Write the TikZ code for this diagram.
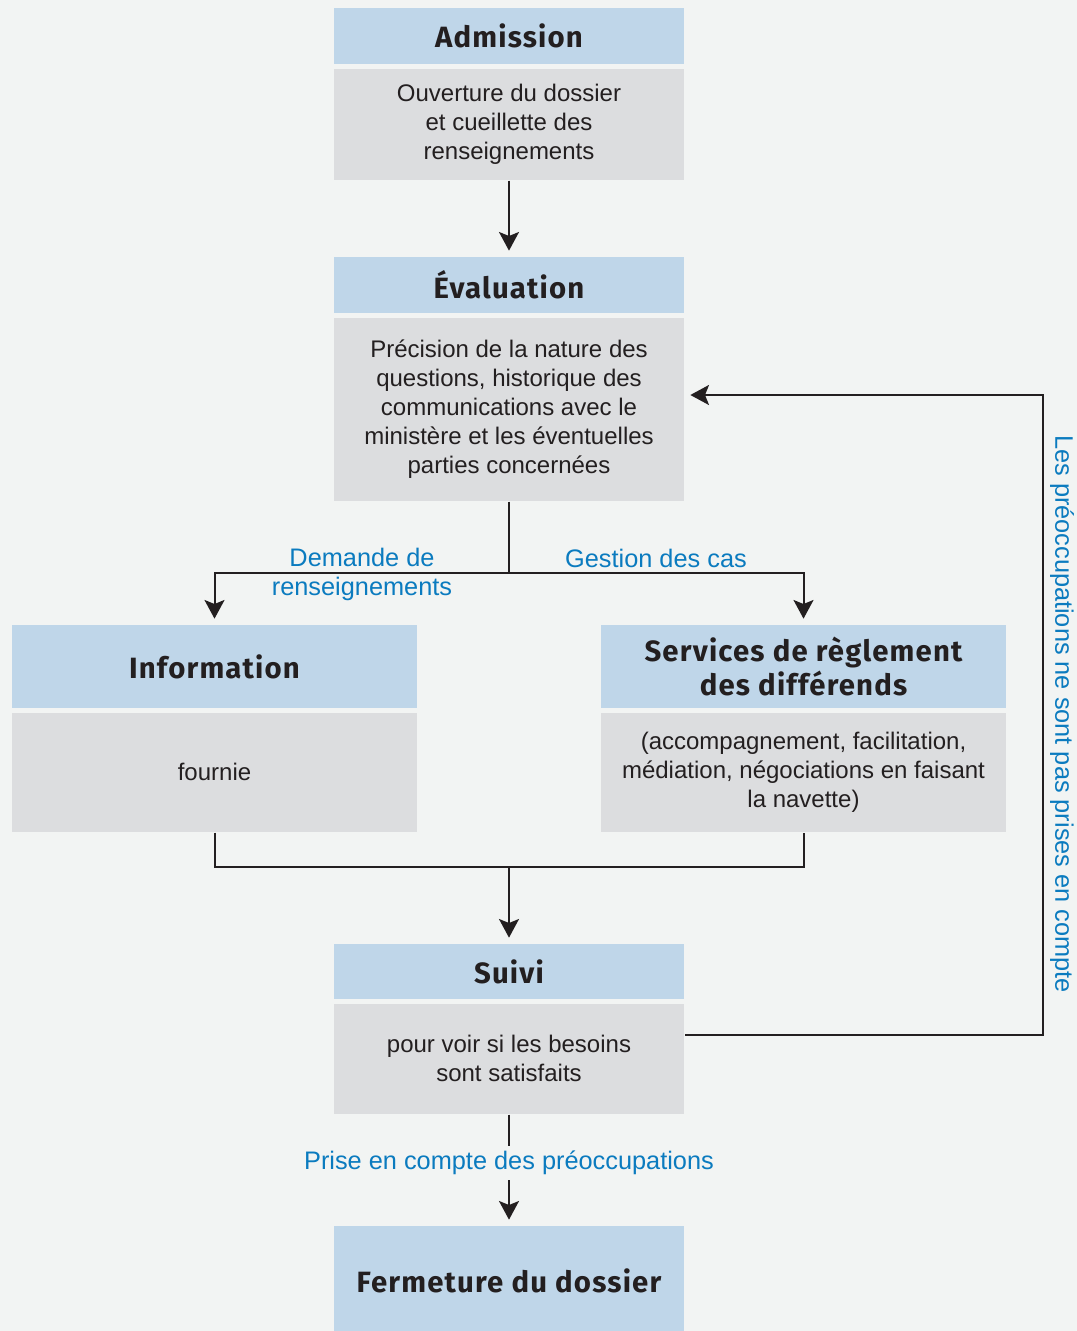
\documentclass[tikz,border=0pt]{standalone}
\usepackage{fontspec}
\setmainfont{Liberation Sans}
\newfontfamily\headfont{Fira Sans}[LetterSpace=4]
\usetikzlibrary{arrows.meta, positioning}
\definecolor{cbg}{HTML}{F2F4F3}
\definecolor{chead}{HTML}{BFD6E9}
\definecolor{cbody}{HTML}{DCDDDF}
\definecolor{clabel}{HTML}{0B7BBF}
\definecolor{cink}{HTML}{231F20}
\tikzset{
  every picture/.style={line width=1.5pt},
  head/.style={fill=chead, text=cink, align=center, inner sep=0pt, minimum width=#1,
    font=\headfont\bfseries\fontsize{22}{25.5}\selectfont},
  head/.default=262.5pt,
  body/.style={fill=cbody, text=cink, align=center, inner sep=0pt, minimum width=#1,
    font=\fontsize{18}{21.75}\selectfont},
  body/.default=262.5pt,
  lbl/.style={text=clabel, align=center, inner sep=1pt, font=\fontsize{19}{21.75}\selectfont},
  arrow/.style={-{Stealth[length=14pt, width=15pt, inset=3pt]}, draw=cink, shorten >=4pt},
  link/.style={draw=cink},
}

\begin{document}
\begin{tikzpicture}[x=0.75pt, y=-0.75pt, node distance=2pt]
  \useasboundingbox[fill=cbg] (0,0) rectangle (1077,1331);
  % blocks: header on top, grey body below
  \node[head, minimum height=42pt] (admh) at (509,36) {Admission};
  \node[body, minimum height=83.25pt, below=of admh] (admb) {Ouverture du dossier\\et cueillette des\\renseignements};
  \node[head, minimum height=42pt] (evah) at (509,285) {Évaluation};
  \node[body, minimum height=137.25pt, below=of evah] (evab) {Précision de la nature des\\questions, historique des\\communications avec le\\ministère et les éventuelles\\parties concernées};
  \node[head=303.75pt, minimum height=62.25pt] (infh) at (214.5,666.5) {Information};
  \node[body=303.75pt, minimum height=89.25pt, below=of infh] (infb) {fournie};
  \node[head=303.75pt, minimum height=62.25pt] (serh) at (803.5,666.5) {Services de règlement\\des différends};
  \node[body=303.75pt, minimum height=89.25pt, below=of serh] (serb) {(accompagnement, facilitation,\\médiation, négociations en faisant\\la navette)};
  \node[head, minimum height=41.25pt] (suih) at (509,971.5) {Suivi};
  \node[body, minimum height=82.5pt, below=of suih] (suib) {pour voir si les besoins\\sont satisfaits};
  \node[head, minimum height=82.5pt] (ferm) at (509,1281) {Fermeture du dossier};
  % branch points
  \coordinate (split) at (509,573);
  \coordinate (join) at (509,867);
  \coordinate (back) at (1043,1035);
  \coordinate (backtop) at (1043,395);
  % connectors
  \draw[arrow] (admb) -- (evah);
  \draw[link] (evab) -- (split);
  \draw[arrow] (split) -| (infh);
  \draw[arrow] (split) -| (serh);
  \draw[link] (infb) |- (join) -| (serb);
  \draw[arrow] (join) -- (suih);
  \draw[arrow] (suib.east |- back) -- (back) -- (backtop) -- (evab.east |- backtop);
  \draw[arrow] (suib) -- (ferm);
  % labels
  \node[lbl] (demlbl) at (362,574) {Demande de\\renseignements};
  \node[lbl] (geslbl) at (656,558) {Gestion des cas};
  \node[lbl, fill=cbg, inner ysep=4pt] (prslbl) at (509,1163) {Prise en compte des préoccupations};
  \node[lbl, rotate=-90] (nonlbl) at (1062,714) {Les préoccupations ne sont pas prises en compte};
\end{tikzpicture}
\end{document}
